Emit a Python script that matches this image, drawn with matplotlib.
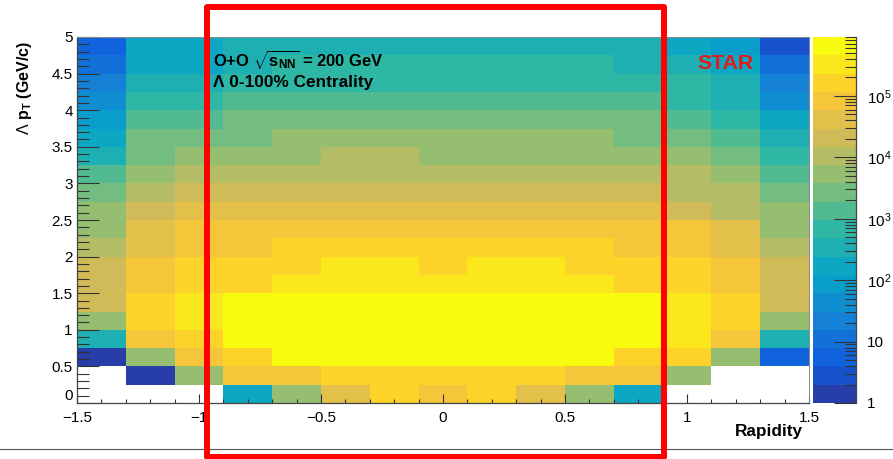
import numpy as np
import matplotlib
matplotlib.use("Agg")
import matplotlib.pyplot as plt
from matplotlib.colors import LinearSegmentedColormap, ListedColormap, LogNorm
from matplotlib.patches import Rectangle
from matplotlib.lines import Line2D
from matplotlib.ticker import FixedLocator, LogLocator, NullFormatter

plt.rcParams['font.family'] = ['Liberation Sans', 'DejaVu Sans']
plt.rcParams['mathtext.fontset'] = 'custom'
plt.rcParams['mathtext.rm'] = 'Liberation Sans'
plt.rcParams['mathtext.bf'] = 'Liberation Sans:bold'
plt.rcParams['mathtext.it'] = 'Liberation Sans:italic'

# ---------------------------------------------------------------- dane
# krawedzie binow: rapidity (15 binow) i pT (20 binow)
rap_edges = [-1.5, -1.3, -1.1, -0.9, -0.7, -0.5, -0.3, -0.1, 0.1, 0.3, 0.5, 0.7, 0.9, 1.1, 1.3, 1.5]
pt_edges = [0.0, 0.25, 0.5, 0.75, 1.0, 1.25, 1.5, 1.75, 2.0, 2.25, 2.5,
            2.75, 3.0, 3.25, 3.5, 3.75, 4.0, 4.25, 4.5, 4.75, 5.0]

# liczba Lambda w binie, wiersz = bin pT (od 0), kolumna = bin rapidity (od -1.5); 0 = pusty bin
lambda_counts = [
    [0, 0, 0, 170, 5300, 42000, 165000, 83000, 165000, 42000, 5300, 170, 0, 0, 0],
    [0, 1.5, 5300, 83000, 83000, 165000, 165000, 165000, 165000, 165000, 83000, 83000, 5300, 0, 0],
    [1.5, 5300, 83000, 165000, 650000, 650000, 650000, 650000, 650000, 650000, 650000, 165000, 165000, 5300, 6],
    [340, 83000, 165000, 650000, 650000, 650000, 650000, 650000, 650000, 650000, 650000, 650000, 330000, 83000, 340],
    [5300, 165000, 330000, 650000, 650000, 650000, 650000, 650000, 650000, 650000, 650000, 650000, 330000, 165000, 5300],
    [21000, 165000, 330000, 650000, 650000, 650000, 650000, 650000, 650000, 650000, 650000, 650000, 330000, 165000, 21000],
    [21000, 83000, 165000, 165000, 330000, 330000, 330000, 330000, 330000, 330000, 330000, 165000, 165000, 83000, 21000],
    [21000, 83000, 165000, 165000, 165000, 330000, 330000, 165000, 330000, 330000, 165000, 165000, 165000, 83000, 21000],
    [10500, 42000, 83000, 83000, 165000, 165000, 165000, 165000, 165000, 165000, 165000, 83000, 83000, 42000, 10500],
    [5300, 42000, 83000, 83000, 83000, 83000, 83000, 83000, 83000, 83000, 83000, 83000, 83000, 42000, 5300],
    [5300, 21000, 42000, 42000, 42000, 42000, 42000, 42000, 42000, 42000, 42000, 42000, 21000, 10500, 5300],
    [2700, 10500, 21000, 21000, 21000, 21000, 21000, 21000, 21000, 21000, 21000, 21000, 10500, 10500, 2700],
    [1350, 5300, 10500, 10500, 10500, 10500, 10500, 10500, 10500, 10500, 10500, 10500, 10500, 5300, 1350],
    [340, 2700, 5300, 5300, 5300, 10500, 10500, 5300, 5300, 5300, 5300, 5300, 5300, 2700, 680],
    [170, 2700, 2700, 2700, 5300, 5300, 5300, 5300, 5300, 5300, 5300, 2700, 2700, 1350, 340],
    [90, 1350, 1350, 2700, 2700, 2700, 2700, 2700, 2700, 2700, 2700, 2700, 1350, 680, 170],
    [45, 680, 680, 1350, 1350, 1350, 1350, 1350, 1350, 1350, 1350, 1350, 680, 340, 45],
    [22, 340, 340, 680, 680, 680, 680, 680, 680, 680, 680, 680, 680, 340, 22],
    [11, 170, 170, 340, 680, 680, 680, 680, 680, 680, 680, 340, 340, 170, 11],
    [6, 170, 170, 340, 340, 340, 340, 340, 340, 340, 340, 340, 170, 90, 3],
]
z_min, z_max = 1, 9.1e5
cbar_ticks = [1, 10, 100, 1000, 1e4, 1e5]
cbar_labels = ['1', '10', r'$10^{2}$', r'$10^{3}$', r'$10^{4}$', r'$10^{5}$']

# ---------------------------------------------------------------- paleta kBird (ROOT), 20 poziomow konturu
stops = [0.0, 0.125, 0.25, 0.375, 0.5, 0.625, 0.75, 0.875, 1.0]
red = [0.2082, 0.0592, 0.0780, 0.0232, 0.1802, 0.5301, 0.8186, 0.9956, 0.9764]
green = [0.1664, 0.3599, 0.5041, 0.6419, 0.7178, 0.7492, 0.7328, 0.7862, 0.9832]
blue = [0.5293, 0.8684, 0.8385, 0.7914, 0.6425, 0.4662, 0.3499, 0.1968, 0.0539]
bird = LinearSegmentedColormap.from_list('bird', list(zip(stops, zip(red, green, blue))), N=255)
n_lev = 20
cmap = ListedColormap([bird(min((i + 0.99) / n_lev, 1.0)) for i in range(n_lev)])

# ---------------------------------------------------------------- rysunek
W, H = 893, 459
fig = plt.figure(figsize=(W / 100, H / 100), dpi=100)
ax = fig.add_axes([77 / W, 56 / H, 732 / W, 366 / H])
cax = fig.add_axes([813 / W, 56 / H, 43 / W, 366 / H])

z = np.ma.masked_equal(np.array(lambda_counts, dtype=float), 0)
mesh = ax.pcolormesh(rap_edges, pt_edges, z, cmap=cmap, norm=LogNorm(vmin=z_min, vmax=z_max),
                     edgecolors='none', antialiased=False)
ax.set_xlim(-1.5, 1.5)
ax.set_ylim(0, 5)

ax.set_xticks(np.arange(-1.5, 1.51, 0.5))
ax.set_xticklabels(['\u22121.5', '\u22121', '\u22120.5', '0', '0.5', '1', '1.5'])
ax.set_xticks(np.arange(-1.5, 1.51, 0.1), minor=True)
ax.set_yticks(np.arange(0, 5.01, 0.5))
ax.set_yticklabels(['0', '0.5', '1', '1.5', '2', '2.5', '3', '3.5', '4', '4.5', '5'])
ax.set_yticks(np.arange(0, 5.01, 0.1), minor=True)
ax.tick_params(axis='x', which='major', direction='in', length=6.5, width=0.8, pad=6, labelsize=11, color='#333333')
ax.tick_params(axis='x', which='minor', direction='in', length=3.2, width=0.8, color='#333333')
ax.tick_params(axis='y', which='major', direction='in', length=15.8, width=0.8, pad=3, labelsize=11, color='#333333')
ax.tick_params(axis='y', which='minor', direction='in', length=8.6, width=0.8, color='#333333')
# "0" na osi y lekko w gore, zeby nie nachodzilo na "-1.5"
ax.get_yticklabels()[0].set_verticalalignment('bottom')
for s in ['left', 'bottom']:
    ax.spines[s].set_color('#444444')
    ax.spines[s].set_linewidth(0.9)
for s in ['top', 'right']:
    ax.spines[s].set_color('#888888')
    ax.spines[s].set_linewidth(0.7)

# pasek kolorow
cb = fig.colorbar(mesh, cax=cax)
cb.outline.set_visible(False)
cax.yaxis.set_major_locator(FixedLocator(cbar_ticks))
cax.yaxis.set_ticklabels(cbar_labels)
cax.yaxis.set_minor_locator(LogLocator(base=10, subs=np.arange(2, 10)))
cax.yaxis.set_minor_formatter(NullFormatter())
cax.tick_params(which='major', direction='in', length=15.8, width=0.8, pad=8, labelsize=11, color='#333333')
cax.tick_params(which='minor', direction='in', length=7.9, width=0.8, color='#333333')
cax.spines['right'].set_visible(True)
cax.spines['right'].set_color('#444444')
cax.spines['right'].set_linewidth(0.9)

# opisy
fig.text(213 / W, 1 - 66 / H, r'O+O $\sqrt{\mathbf{s}_{\mathbf{NN}}}$ = 200 GeV', fontsize=12,
         fontweight='bold', ha='left', va='baseline')
fig.text(213 / W, 1 - 87 / H, '\u039b 0-100% Centrality', fontsize=12.4, fontweight='bold',
         ha='left', va='baseline')
fig.text(697 / W, 1 - 69 / H, 'STAR', fontsize=15.3, fontweight='bold', color='#e31a1c',
         ha='left', va='baseline')
fig.text(803 / W, 1 - 436 / H, 'Rapidity', fontsize=12.4, fontweight='bold', ha='right', va='baseline')
fig.text(25 / W, 1 - 41 / H, r'$\Lambda$ $\mathbf{p_{T}}$ (GeV/c)', fontsize=11.5, fontweight='bold',
         rotation=90, ha='center', va='top')

# ramka zaznaczenia i linia na dole
fig.add_artist(Line2D([0, 1], [1 - 449 / H, 1 - 449 / H], transform=fig.transFigure,
                      color='#555555', linewidth=0.8))
fig.add_artist(Rectangle((207 / W, 1 - 456.5 / H), 457 / W, 449.5 / H, transform=fig.transFigure,
                         fill=False, edgecolor='#ff0000', linewidth=4.3, joinstyle='round', zorder=10))

fig.savefig('out.png', dpi=100)
